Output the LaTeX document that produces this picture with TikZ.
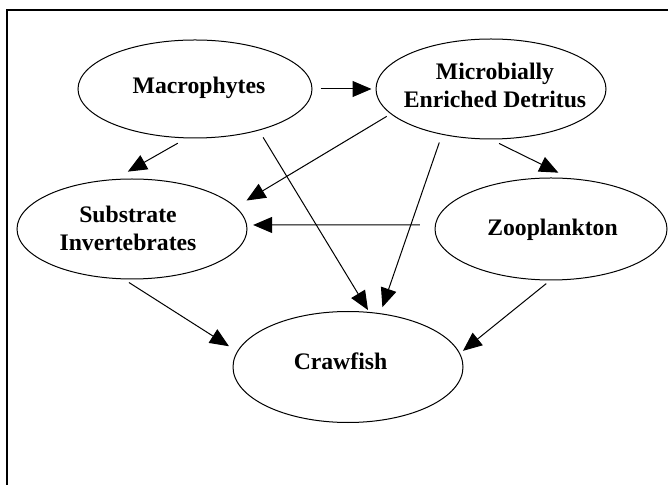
\documentclass[tikz,border=0pt]{standalone}
\usepackage{fontspec}
\setmainfont{Liberation Serif}
\usetikzlibrary{arrows.meta,shapes.geometric}

\tikzset{
  pool/.style={draw, ellipse, line width=0.5pt, inner sep=0pt},
  txt/.style={font=\bfseries\fontsize{11.85}{14}\selectfont, align=center, inner sep=0pt},
  flow/.style={-{Triangle[length=9.5pt,width=8pt]}, line width=0.5pt}
}

\begin{document}
\begin{tikzpicture}[x=0.5pt, y=-0.5pt]
    \useasboundingbox (0,0) rectangle (668,485);
    % Frame
    \draw[line width=1.2pt] (7,485) -- (7,10) -- (668,10);

    % Nodes
    \node (macro) [pool, minimum width=117pt, minimum height=49pt] at (195,89) {};
    \node (micro) [pool, minimum width=115pt, minimum height=50pt] at (491,89) {};
    \node (subst) [pool, minimum width=115pt, minimum height=50pt] at (132,229) {};
    \node (zoo) [pool, minimum width=116pt, minimum height=51pt] at (551,229) {};
    \node (craw) [pool, minimum width=115pt, minimum height=55.5pt] at (348,367) {};

    % Labels
    \node (macro-t) [txt] at (199,87.5) {Macrophytes};
    \node (micro-t) [txt] at (495,85) {Microbially\\Enriched Detritus};
    \node (subst-t) [txt] at (128,228.5) {Substrate\\Invertebrates};
    \node (zoo-t) [txt] at (552.5,229.5) {Zooplankton};
    \node (craw-t) [txt] at (340.5,361) {Crawfish};

    % Arrows
    \draw[flow, shorten <=4pt, shorten >=2pt] (macro.0) -- (micro.180);
    \draw[flow, shorten <=4.9pt, shorten >=7.5pt] (macro.-100) -- (subst.109);
    \draw[flow, shorten <=2.3pt, shorten >=6.2pt] (micro.194) -- (subst.12.5);
    \draw[flow, shorten <=4pt, shorten >=1.1pt] (macro.-33) -- (craw.69);
    \draw[flow, shorten <=4.1pt, shorten >=3.2pt] (micro.-137) -- (craw.59);
    \draw[flow, shorten <=4.5pt, shorten >=6.2pt] (micro.-90) -- (zoo.70);
    \draw[flow, shorten <=7.5pt, shorten >=3pt] (zoo.178) -- (subst.2);
    \draw[flow, shorten <=2.9pt, shorten >=4.8pt] (subst.-99) -- (craw.172);
    \draw[flow, shorten <=2.5pt, shorten >=1.9pt] (zoo.-91) -- (craw.7.5);
\end{tikzpicture}
\end{document}
